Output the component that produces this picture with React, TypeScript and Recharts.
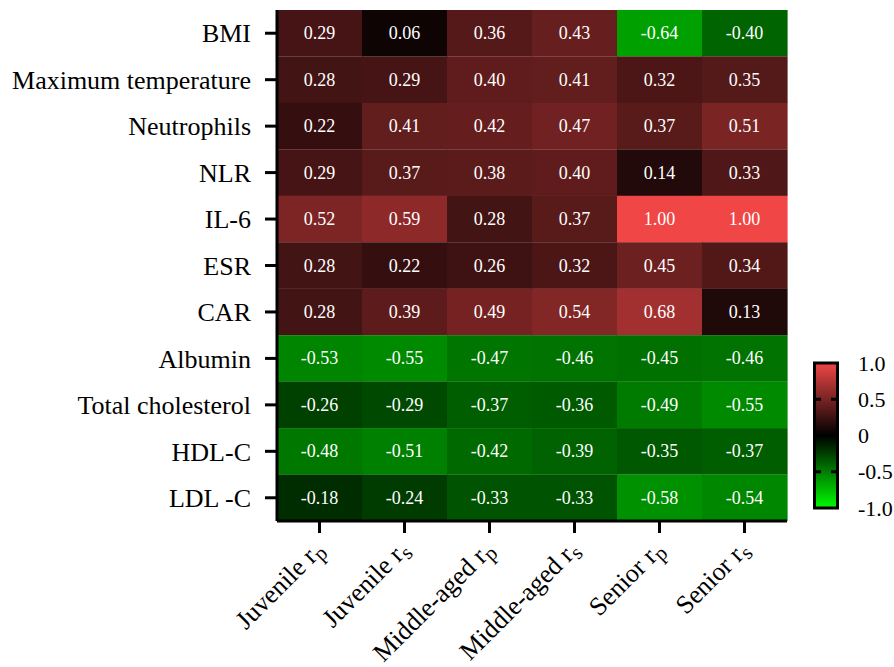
import React from 'react';
import { BarChart, Bar, XAxis, YAxis } from 'recharts';

// row labels, top to bottom
const rows = [
  'BMI',
  'Maximum temperature',
  'Neutrophils',
  'NLR',
  'IL-6',
  'ESR',
  'CAR',
  'Albumin',
  'Total cholesterol',
  'HDL-C',
  'LDL -C',
];

// column labels: group name + subscript of r
const columnGroups = ['Juvenile', 'Juvenile', 'Middle-aged', 'Middle-aged', 'Senior', 'Senior'];
const columnSubs = ['p', 's', 'p', 's', 'p', 's'];

// correlation coefficients, one array per column (same order as rows)
const juvenileRp = [0.29, 0.28, 0.22, 0.29, 0.52, 0.28, 0.28, -0.53, -0.26, -0.48, -0.18];
const juvenileRs = [0.06, 0.29, 0.41, 0.37, 0.59, 0.22, 0.39, -0.55, -0.29, -0.51, -0.24];
const middleRp = [0.36, 0.4, 0.42, 0.38, 0.28, 0.26, 0.49, -0.47, -0.37, -0.42, -0.33];
const middleRs = [0.43, 0.41, 0.47, 0.4, 0.37, 0.32, 0.54, -0.46, -0.36, -0.39, -0.33];
const seniorRp = [-0.64, 0.32, 0.37, 0.14, 1.0, 0.45, 0.68, -0.45, -0.49, -0.35, -0.58];
const seniorRs = [-0.4, 0.35, 0.51, 0.33, 1.0, 0.34, 0.13, -0.46, -0.55, -0.37, -0.54];

const columnValues = [juvenileRp, juvenileRs, middleRp, middleRs, seniorRp, seniorRs];

// color scale legend
const legendValues = [1.0, 0.5, 0, -0.5, -1.0];
const legendLabels = ['1.0', '0.5', '0', '-0.5', '-1.0'];

const xTicks = columnGroups.map((_, i) => i + 0.5);

// each cell is a stacked bar segment of width 1, value kept alongside
const table = rows.map((name, r) => {
  const row: Record<string, any> = { name };
  columnValues.forEach((vals, c) => {
    row[`v${c}`] = vals[r];
    row[`w${c}`] = 1;
  });
  return row;
});

const FONT = '"Liberation Serif", "Times New Roman", serif';

function cellColor(v: number) {
  if (v >= 0) {
    return `rgb(${Math.round(240 * v)},${Math.round(70 * v)},${Math.round(70 * v)})`;
  }
  return `rgb(0,${Math.round(250 * -v)},0)`;
}

const makeCell = (c: number) => (props: any) => {
  const { x, y, width, height, payload } = props;
  const v = payload[`v${c}`];
  return (
    <g>
      <rect x={x} y={y} width={width + 0.6} height={height + 0.6} fill={cellColor(v)} />
      <text
        x={x + width / 2}
        y={y + height / 2}
        dy="0.35em"
        textAnchor="middle"
        fill="#fff"
        fontSize={18}
        fontFamily={FONT}
      >
        {v.toFixed(2)}
      </text>
    </g>
  );
};

const XTick = (props: any) => {
  const { x, y, payload } = props;
  const i = Math.floor(payload.value);
  return (
    <text
      transform={`translate(${x + 6},${y + 16}) rotate(-45)`}
      textAnchor="end"
      fontSize={26}
      fontFamily={FONT}
      fill="#000"
    >
      {columnGroups[i]} r<tspan dy={5} fontSize={21}>{columnSubs[i]}</tspan>
    </text>
  );
};

const ColorBar = () => {
  const top = 18;
  const bottom = 163;
  const yOf = (v: number) => top + ((1 - v) / 2) * (bottom - top);
  return (
    <svg width={94} height={190} style={{ position: 'absolute', left: 800, top: 345 }}>
      <defs>
        <linearGradient id="rg" x1="0" y1="0" x2="0" y2="1">
          <stop offset="0%" stopColor={cellColor(1)} />
          <stop offset="50%" stopColor="#000" />
          <stop offset="100%" stopColor={cellColor(-1)} />
        </linearGradient>
      </defs>
      <rect x={14.5} y={top} width={23} height={bottom - top} fill="url(#rg)" stroke="#000" strokeWidth={3} />
      {[0.5, -0.5].map((v) => (
        <g key={v}>
          <line x1={14} x2={21} y1={yOf(v)} y2={yOf(v)} stroke="#000" strokeWidth={3} />
          <line x1={31} x2={38} y1={yOf(v)} y2={yOf(v)} stroke="#000" strokeWidth={3} />
        </g>
      ))}
      {legendValues.map((v, i) => (
        <text key={v} x={58} y={yOf(v)} dy="0.35em" fontSize={22} fontFamily={FONT} fill="#000">
          {legendLabels[i]}
        </text>
      ))}
    </svg>
  );
};

const App: React.FC = () => {
  const axisStroke = { stroke: '#000', strokeWidth: 3 };
  return (
    <div style={{ position: 'absolute', left: 0, top: 0, width: 894, height: 667, background: '#fff' }}>
      <BarChart
        width={894}
        height={667}
        data={table}
        layout="vertical"
        barCategoryGap={0}
        margin={{ top: 10, right: 107, bottom: 0, left: 0 }}
      >
        {columnValues.map((_, c) => (
          <Bar
            key={c}
            dataKey={`w${c}`}
            stackId="cells"
            isAnimationActive={false}
            shape={makeCell(c)}
          />
        ))}
        <XAxis
          type="number"
          domain={[0, 6]}
          ticks={xTicks}
          interval={0}
          height={146}
          tickSize={12}
          tickMargin={2}
          tick={<XTick />}
          tickLine={axisStroke}
          axisLine={axisStroke}
        />
        <XAxis
          xAxisId="top"
          orientation="top"
          type="number"
          domain={[0, 6]}
          height={0}
          tick={false}
          tickLine={false}
          axisLine={axisStroke}
        />
        <YAxis
          type="category"
          dataKey="name"
          width={277}
          interval={0}
          tickSize={12}
          tickMargin={14}
          tick={{ fontSize: 26, fill: '#000', fontFamily: FONT }}
          tickLine={axisStroke}
          axisLine={axisStroke}
        />
        <YAxis
          yAxisId="right"
          orientation="right"
          type="category"
          dataKey="name"
          width={0}
          tick={false}
          tickLine={false}
          axisLine={axisStroke}
        />
      </BarChart>
      <ColorBar />
    </div>
  );
};

export default App;
